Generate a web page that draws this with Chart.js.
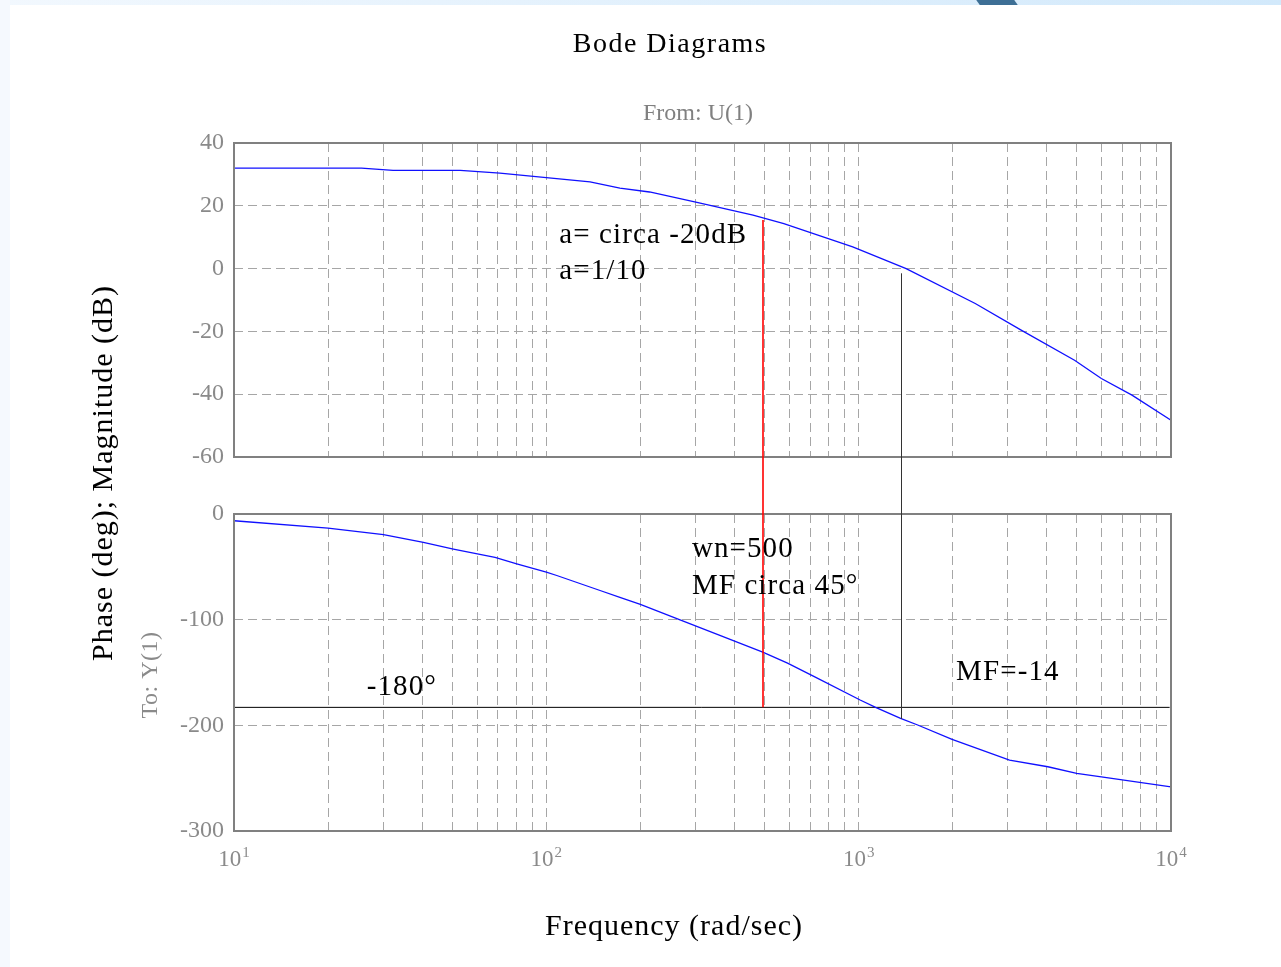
<!DOCTYPE html>
<html>
<head>
<meta charset="utf-8">
<script src="https://cdn.jsdelivr.net/npm/chart.js@4/dist/chart.umd.min.js"></script>
<style>
html,body{margin:0;padding:0;background:#fff;}
#wrap{position:relative;width:1281px;height:967px;overflow:hidden;background:#fff;}
#topbar{position:absolute;left:0;top:0;width:1281px;height:5px;background:linear-gradient(90deg,#f2f8fe,#d2e9fb);}
#leftbar{position:absolute;left:0;top:0;width:10px;height:967px;background:#f5f9fe;}
#deco{position:absolute;left:978px;top:0;width:38px;height:5px;background:#3d6f95;transform:skewX(35deg);}
canvas{position:absolute;left:0;top:0;}
</style>
</head>
<body>
<div id="wrap">
  <div id="topbar"></div><div id="leftbar"></div><div id="deco"></div>
  <canvas id="magCanvas" width="1281" height="967"></canvas>
  <canvas id="phaseCanvas" width="1281" height="967"></canvas>
</div>
<script>
// ---------- data ----------
const freqDecades = [10, 100, 1000, 10000];
const decadeExponents = ['1', '2', '3', '4'];
const magTicks = [-60, -40, -20, 0, 20, 40];
const phaseTicks = [-300, -200, -100, 0];

const magFreq = [10, 25.6, 32.3, 53, 71, 100, 138, 172, 214, 301, 459, 576, 957, 1419, 2362, 3313, 4911, 5984, 7500, 10000];
const magDb   = [32.0, 32.0, 31.3, 31.3, 30.4, 29.0, 27.6, 25.6, 24.4, 21.2, 17.0, 14.3, 6.9, 0, -11.1, -19.6, -29.2, -35.0, -40.3, -48.3];

const phaseFreq = [10, 20, 30.1, 40.4, 50.4, 68.5, 80.4, 100, 108, 148.6, 172, 200, 268, 356, 493, 592, 721, 1011, 1133, 1362, 1545, 1991, 3041, 4034, 4989, 5984, 10000];
const phaseDeg  = [-6.4, -13.3, -19.6, -26.9, -33.2, -41.1, -47.1, -55.0, -58.2, -72.4, -79.0, -85.5, -100.2, -114.4, -130.8, -141.2, -153.9, -176, -183, -193.4, -199.7, -213.3, -232.9, -239.2, -245.5, -248.7, -258.2];

const refLineFreq = [10, 9900];
const refLineDeg  = [-183, -183];

const markerFreq      = [493, 1362];
const markerTopDb     = [15.5, -1.5];
const markerBottomDeg = [-183, -194];

const annotTexts = ['a= circa -20dB', 'a=1/10', 'wn=500', 'MF circa 45°', '-180°', 'MF=-14'];
const annotPanel = ['mag', 'mag', 'phase', 'phase', 'phase', 'phase'];
const annotFreq  = [110, 110, 292.5, 292.5, 26.6, 2051];
const annotValue = [8.3, -3.4, -40.8, -75.5, -171.3, -157];

// ---------- styles ----------
const FONT = '"Liberation Serif","Times New Roman",serif';
const GRID = '#a6a6a6';
const FRAME = '#808080';
const TICK = '#8a8a8a';
const CURVE = '#1010ff';
const markerColor = ['#ff0000', '#333333'];
const markerWidth = [1.6, 1];

Chart.defaults.font.family = FONT;

const gridFreqs = [];
freqDecades.slice(0, -1).forEach(d => { for (let m = 1; m < 10; m++) gridFreqs.push(d * m); });
gridFreqs.push(freqDecades[freqDecades.length - 1]);

function xScale() {
  return {
    type: 'logarithmic', min: 10, max: 10000,
    afterBuildTicks: s => { s.ticks = gridFreqs.map(v => ({ value: v })); },
    ticks: { display: false },
    grid: { color: GRID, lineWidth: 1, drawTicks: false, borderDash: [9, 5] },
    border: { display: false, dash: [9, 5] },
    afterFit: s => { s.height = 0; s.paddingLeft = 0; s.paddingRight = 0; }
  };
}
function yScale(min, max, step) {
  return {
    type: 'linear', min: min, max: max,
    ticks: { stepSize: step, color: TICK, font: { size: 24, family: FONT }, padding: 10 },
    grid: { color: GRID, lineWidth: 1, drawTicks: false, borderDash: [9, 5] },
    border: { display: false, dash: [9, 5] },
    afterFit: s => { s.width = 234; s.paddingTop = 0; s.paddingBottom = 0; }
  };
}
function frame(chart) {
  const a = chart.chartArea, ctx = chart.ctx;
  ctx.save();
  ctx.strokeStyle = FRAME; ctx.lineWidth = 2; ctx.setLineDash([]);
  ctx.strokeRect(a.left, a.top, a.right - a.left, a.bottom - a.top);
  ctx.restore();
}
function txt(ctx, s, x, y, size, color, align, spacing) {
  ctx.save();
  ctx.font = size + 'px ' + FONT;
  ctx.fillStyle = color; ctx.textAlign = align; ctx.textBaseline = 'alphabetic';
  ctx.letterSpacing = (spacing || 0) + 'px';
  ctx.fillText(s, x, y);
  ctx.restore();
}

const magChart = new Chart(document.getElementById('magCanvas'), {
  type: 'line',
  data: { datasets: [{
    data: magFreq.map((f, i) => ({ x: f, y: magDb[i] })),
    borderColor: CURVE, borderWidth: 1.3, pointRadius: 0, tension: 0, fill: false
  }] },
  options: {
    responsive: false, animation: false, events: [],
    layout: { padding: { left: 0, top: 143, right: 110, bottom: 510 } },
    plugins: { legend: { display: false }, tooltip: { enabled: false } },
    scales: { x: xScale(), y: yScale(-60, 40, 20) }
  },
  plugins: [{ id: 'frameMag', afterDraw: frame }]
});

const phaseChart = new Chart(document.getElementById('phaseCanvas'), {
  type: 'line',
  data: { datasets: [
    { data: phaseFreq.map((f, i) => ({ x: f, y: phaseDeg[i] })),
      borderColor: CURVE, borderWidth: 1.3, pointRadius: 0, tension: 0, fill: false },
    { data: refLineFreq.map((f, i) => ({ x: f, y: refLineDeg[i] })),
      borderColor: '#000000', borderWidth: 1, pointRadius: 0, tension: 0, fill: false }
  ] },
  options: {
    responsive: false, animation: false, events: [],
    layout: { padding: { left: 0, top: 514, right: 110, bottom: 136 } },
    plugins: { legend: { display: false }, tooltip: { enabled: false } },
    scales: { x: xScale(), y: yScale(-300, 0, 100) }
  },
  plugins: [{
    id: 'decor',
    afterDraw(chart) {
      frame(chart);
      const ctx = chart.ctx;
      const xs = chart.scales.x, yp = chart.scales.y;
      const ym = magChart.scales.y;
      // vertical marker lines
      markerFreq.forEach((f, i) => {
        const x = Math.round(xs.getPixelForValue(f)) + (markerWidth[i] < 1.5 ? 0.5 : 0);
        ctx.save();
        ctx.strokeStyle = markerColor[i]; ctx.lineWidth = markerWidth[i]; ctx.setLineDash([]);
        ctx.beginPath();
        ctx.moveTo(x, ym.getPixelForValue(markerTopDb[i]));
        ctx.lineTo(x, yp.getPixelForValue(markerBottomDeg[i]));
        ctx.stroke();
        ctx.restore();
      });
      // x tick labels 10^n
      freqDecades.forEach((v, i) => {
        const x = xs.getPixelForValue(v);
        ctx.save();
        ctx.font = '23px ' + FONT; const w1 = ctx.measureText('10').width;
        ctx.font = '15px ' + FONT; const w2 = ctx.measureText(decadeExponents[i]).width;
        ctx.restore();
        const start = x - (w1 + w2 + 1) / 2;
        txt(ctx, '10', start, 866, 23, TICK, 'left', 0);
        txt(ctx, decadeExponents[i], start + w1 + 1, 857, 15, TICK, 'left', 0);
      });
      // annotations
      annotTexts.forEach((s, i) => {
        const ys = annotPanel[i] === 'mag' ? ym : yp;
        txt(ctx, s, xs.getPixelForValue(annotFreq[i]), ys.getPixelForValue(annotValue[i]), 29, '#000000', 'left', 1.1);
      });
      // titles
      txt(ctx, 'Bode Diagrams', 670, 52, 28, '#000000', 'center', 1.5);
      txt(ctx, 'From: U(1)', 698, 120, 24, '#808080', 'center', 0);
      txt(ctx, 'Frequency (rad/sec)', 674, 935, 30, '#000000', 'center', 1);
      ctx.save();
      ctx.translate(112, 473); ctx.rotate(-Math.PI / 2);
      txt(ctx, 'Phase (deg); Magnitude (dB)', 0, 0, 30, '#000000', 'center', 1);
      ctx.restore();
      ctx.save();
      ctx.translate(157, 675); ctx.rotate(-Math.PI / 2);
      txt(ctx, 'To: Y(1)', 0, 0, 24, '#8a8a8a', 'center', 0.5);
      ctx.restore();
    }
  }]
});
</script>
</body>
</html>
